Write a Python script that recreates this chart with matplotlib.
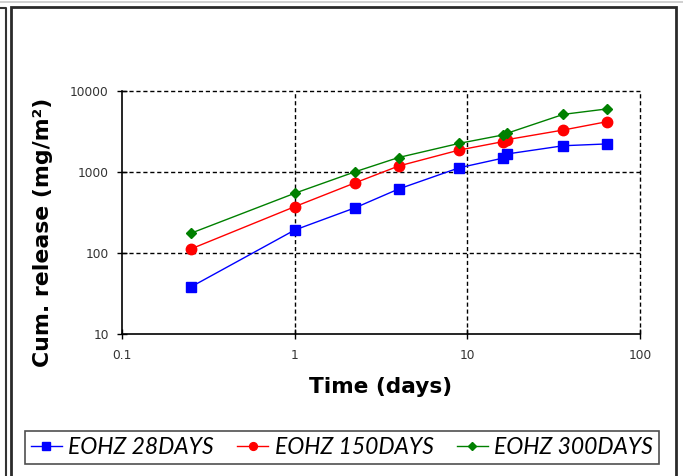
import matplotlib
matplotlib.use("Agg")
import matplotlib.pyplot as plt
from matplotlib.patches import Rectangle
from matplotlib.lines import Line2D

# Leaching times (days) and cumulative release (mg/m2)
time_days = [0.25, 1, 2.25, 4, 9, 16, 17, 36, 64]
eohz_28 = [38, 192, 363, 617, 1130, 1480, 1670, 2110, 2220]
eohz_150 = [112, 373, 738, 1185, 1870, 2365, 2510, 3300, 4170]
eohz_300 = [175, 546, 1010, 1510, 2260, 2860, 3010, 5150, 6000]

series_labels = ["EOHZ 28DAYS", "EOHZ 150DAYS", "EOHZ 300DAYS"]
x_ticks = [0.1, 1, 10, 100]
x_tick_labels = ["0.1", "1", "10", "100"]
y_ticks = [10, 100, 1000, 10000]
y_tick_labels = ["10", "100", "1000", "10000"]

W, H = 683, 476
fig = plt.figure(figsize=(W / 100, H / 100), dpi=100)
fig.patch.set_facecolor("white")

# Window-style frame around the chart
fig.add_artist(Line2D([0, 1], [1 - 2 / H, 1 - 2 / H], transform=fig.transFigure,
                      color="#c8c8c8", lw=1.2))
fig.add_artist(Line2D([0, 6 / W, 6 / W], [1 - 8 / H, 1 - 8 / H, 0], transform=fig.transFigure,
                      color="#333333", lw=1.5))
fig.add_artist(Rectangle((11 / W, -0.05), (676 - 11) / W, 1.05 - 7 / H,
                         transform=fig.transFigure, fill=False, ec="#2a2a2a", lw=2))

ax = fig.add_axes([122 / W, 1 - 334 / H, (640 - 122) / W, (334 - 91) / H])
ax.set_xscale("log")
ax.set_yscale("log")
ax.set_xlim(0.1, 100)
ax.set_ylim(10, 10000)

ax.plot(time_days, eohz_28, color="#0000ff", lw=1, marker="s", ms=7.5,
        mec="#0000ff", mfc="#0000ff", label=series_labels[0], zorder=3)
ax.plot(time_days, eohz_150, color="#ff0000", lw=1, marker="o", ms=7.5,
        mec="#ff0000", mfc="#ff0000", label=series_labels[1], zorder=3)
ax.plot(time_days, eohz_300, color="#008000", lw=1, marker="D", ms=5.5,
        mec="#008000", mfc="#008000", label=series_labels[2], zorder=3)

ax.set_xticks(x_ticks)
ax.set_xticklabels(x_tick_labels)
ax.set_yticks(y_ticks)
ax.set_yticklabels(y_tick_labels)
ax.minorticks_off()
ax.tick_params(axis="both", direction="inout", length=7, width=1, labelsize=8.8,
               labelcolor="#333333")
ax.tick_params(axis="x", pad=7)
ax.tick_params(axis="y", pad=6)

for side in ("top", "right"):
    ax.spines[side].set_visible(False)
for side in ("left", "bottom"):
    ax.spines[side].set_linewidth(1.2)

for yv in y_ticks[1:]:
    ax.axhline(yv, color="black", lw=1, ls=(0, (3, 2)), zorder=1, clip_on=False)
for xv in x_ticks[1:]:
    ax.axvline(xv, color="black", lw=1, ls=(0, (3, 2)), zorder=1, clip_on=False)

ax.set_xlabel("Time (days)", fontsize=15.6, fontweight="bold")
ax.xaxis.set_label_coords(0.5, -(387 - 334) / (334 - 91), transform=ax.transAxes)
ax.xaxis.label.set_va("center")
ax.set_ylabel("Cum. release (mg/m²)", fontsize=15.8, fontweight="bold")
ax.yaxis.set_label_coords(-(122 - 43) / (640 - 122), (334 - 232) / (334 - 91),
                          transform=ax.transAxes)
ax.yaxis.label.set_va("center")

leg = fig.legend(loc="center", bbox_to_anchor=((22 + 662) / 2 / W, 1 - 447.5 / H),
                 ncol=3, frameon=True, fancybox=False, edgecolor="#222222",
                 prop={"family": "Lato", "style": "italic", "size": 16.5},
                 handlelength=1.35, columnspacing=1.0, handletextpad=0.3,
                 borderpad=0.25, markerscale=0.75)
leg.get_frame().set_linewidth(1.2)

fig.savefig("out.png", dpi=100, facecolor="white")
